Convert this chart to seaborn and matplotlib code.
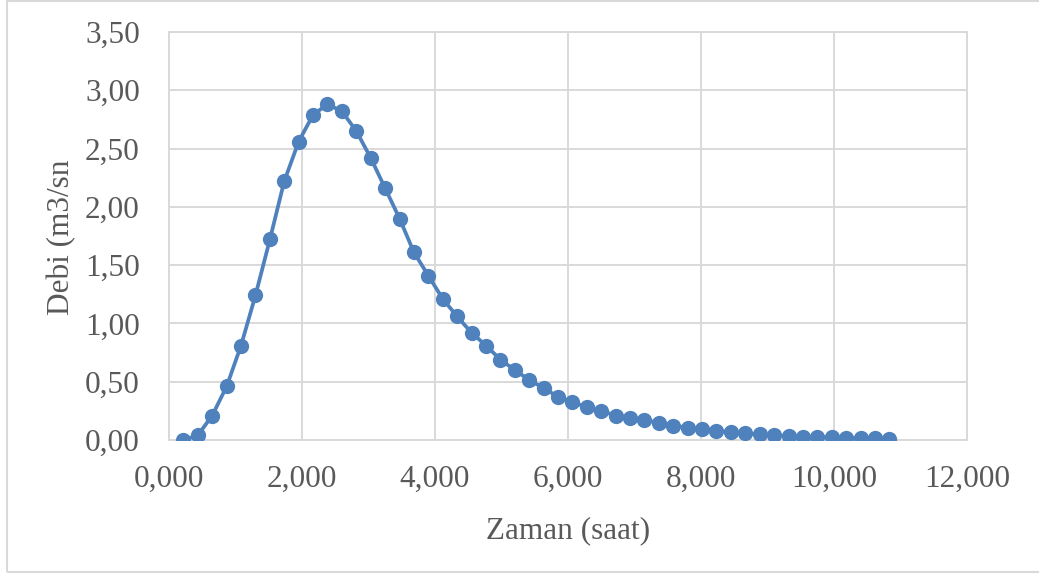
import matplotlib
matplotlib.use("Agg")
import matplotlib.pyplot as plt
import seaborn as sns
import pandas as pd
from matplotlib.patches import Rectangle

# ---- data ----
time_h = [0.217, 0.433, 0.650, 0.867, 1.083, 1.300, 1.517, 1.733, 1.950, 2.167,
          2.383, 2.600, 2.817, 3.033, 3.250, 3.467, 3.683, 3.900, 4.117, 4.333,
          4.550, 4.767, 4.983, 5.200, 5.417, 5.633, 5.850, 6.067, 6.283, 6.500,
          6.717, 6.933, 7.150, 7.367, 7.583, 7.800, 8.017, 8.233, 8.450, 8.667,
          8.883, 9.100, 9.317, 9.533, 9.750, 9.967, 10.183, 10.400, 10.617, 10.833]
discharge = [0.00, 0.04, 0.21, 0.46, 0.81, 1.24, 1.72, 2.22, 2.56, 2.79,
             2.88, 2.82, 2.65, 2.42, 2.16, 1.90, 1.61, 1.41, 1.21, 1.06,
             0.92, 0.81, 0.69, 0.60, 0.515, 0.446, 0.37, 0.326, 0.28, 0.249,
             0.21, 0.19, 0.169, 0.149, 0.123, 0.106, 0.091, 0.080, 0.069, 0.057,
             0.049, 0.040, 0.034, 0.029, 0.026, 0.023, 0.020, 0.017, 0.017, 0.011]
x_ticks = [0, 2, 4, 6, 8, 10, 12]
x_tick_labels = ["0,000", "2,000", "4,000", "6,000", "8,000", "10,000", "12,000"]
y_ticks = [0, 0.5, 1.0, 1.5, 2.0, 2.5, 3.0, 3.5]
y_tick_labels = ["0,00", "0,50", "1,00", "1,50", "2,00", "2,50", "3,00", "3,50"]
x_title = "Zaman (saat)"
y_title = "Debi (m3/sn"

df = pd.DataFrame({"t": time_h, "q": discharge})

sns.set_theme(style="white")
plt.rcParams["font.family"] = ["Liberation Serif", "DejaVu Serif"]

W, H = 1039, 574
L, R, T, B = 169, 967, 32, 440
fig = plt.figure(figsize=(W / 100, H / 100), dpi=100)
ax = fig.add_axes([L / W, 1 - B / H, (R - L) / W, (B - T) / H])

blue = "#4F81BD"
sns.lineplot(data=df, x="t", y="q", ax=ax, color=blue, linewidth=2.7,
             marker="o", markersize=11, markeredgewidth=0, zorder=3)

ax.set_xlim(0, 12)
ax.set_ylim(0, 3.5)
ax.set_xticks(x_ticks)
ax.set_xticklabels(x_tick_labels)
ax.set_yticks(y_ticks)
ax.set_yticklabels(y_tick_labels)

grid_c = "#D9D9D9"
ax.grid(True, color=grid_c, linewidth=1.4)
ax.set_axisbelow(True)
for s in ax.spines.values():
    s.set_color(grid_c)
    s.set_linewidth(1.4)

tick_c = "#595959"
fs = 22.5
ax.tick_params(axis="both", length=0, labelsize=fs, colors=tick_c)
ax.tick_params(axis="x", pad=18)
ax.tick_params(axis="y", pad=21)

ax.set_xlabel(x_title, fontsize=fs, color=tick_c)
ax.set_ylabel(y_title, fontsize=fs, color=tick_c)
ax.xaxis.set_label_coords(0.5, -(531 - B) / (B - T))
ax.yaxis.set_label_coords(-(L - 62) / (R - L), (B - 237) / (B - T))
ax.xaxis.label.set_va("center")
ax.yaxis.label.set_va("center")

fig.patches.append(Rectangle((7 / W, 1 - 572 / H), 1.0, (572 - 1) / H, transform=fig.transFigure,
                             fill=False, edgecolor=grid_c, linewidth=1.5))

fig.savefig("out.png", dpi=100, facecolor="white")
